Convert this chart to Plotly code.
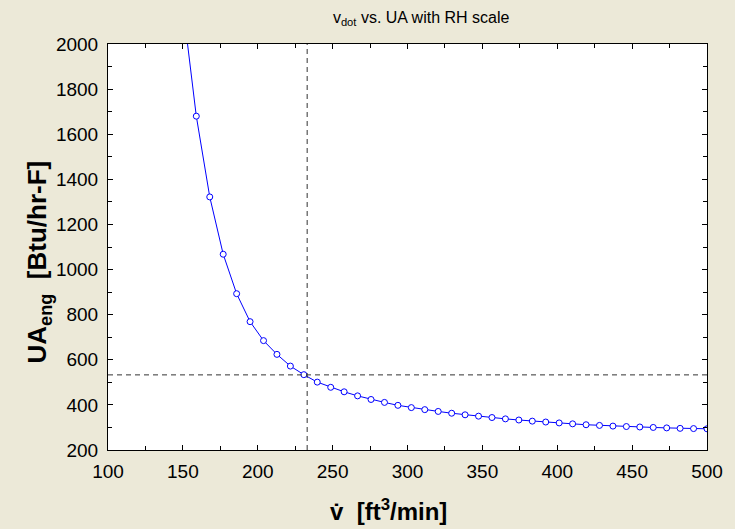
import plotly.graph_objects as go

# Data
v_dot = [150.00, 158.97, 167.95, 176.92, 185.90, 194.87, 203.85, 212.82, 221.79, 230.77,
         239.74, 248.72, 257.69, 266.67, 275.64, 284.62, 293.59, 302.56, 311.54, 320.51,
         329.49, 338.46, 347.44, 356.41, 365.38, 374.36, 383.33, 392.31, 401.28, 410.26,
         419.23, 428.21, 437.18, 446.15, 455.13, 464.10, 473.08, 482.05, 491.03, 500.00]
ua_eng = [2170, 1680, 1322, 1068, 893, 769, 685, 624, 572, 534,
          501, 478, 458, 440, 424, 411, 398, 388, 379, 371,
          363, 356, 350, 344, 338, 333, 328, 324, 320, 316,
          312, 309, 306, 304, 302, 300, 298, 296, 295, 294]

v_cross = 233
ua_cross = 533

x_ticks = [100, 150, 200, 250, 300, 350, 400, 450, 500]
y_ticks = [200, 400, 600, 800, 1000, 1200, 1400, 1600, 1800, 2000]

title_text = "v<sub>dot</sub> vs. UA with RH scale"
x_title = "<b>v\u0307\u00a0\u00a0[ft<sup>3</sup>/min]</b>"
y_title = "<b>UA<sub>eng</sub>\u00a0\u00a0[Btu/hr-F]</b>"

FONT = "Liberation Sans, Arial, sans-serif"

fig = go.Figure()
fig.add_trace(go.Scatter(
    x=v_dot, y=ua_eng, mode="lines+markers",
    line=dict(color="#0000FF", width=1),
    marker=dict(symbol="circle", size=6, color="white",
                line=dict(color="#0000FF", width=1)),
    showlegend=False, hoverinfo="x+y"))

fig.add_hline(y=ua_cross, line=dict(color="#333333", width=1, dash="5px,4px"))
fig.add_vline(x=v_cross, line=dict(color="#333333", width=1, dash="5px,4px"))

fig.update_layout(
    width=735, height=529,
    paper_bgcolor="#ECE9D8", plot_bgcolor="white",
    margin=dict(l=108, r=22, t=44, b=79),
    font=dict(family=FONT, size=19, color="black"),
    title=dict(text=title_text,
               x=0.573, xanchor="center", y=0.967, yanchor="middle",
               font=dict(family=FONT, size=16, color="black")),
)

fig.add_annotation(text=x_title, xref="paper", yref="paper",
                   x=0.468, y=-0.148, xanchor="center", yanchor="middle",
                   showarrow=False, font=dict(family=FONT, size=24, color="black"))
fig.add_annotation(text=y_title, xref="paper", yref="paper",
                   x=-0.116, y=0.463, xanchor="center", yanchor="middle",
                   textangle=-90,
                   showarrow=False, font=dict(family=FONT, size=26, color="black"))

fig.update_xaxes(
    range=[100, 500], tickvals=x_ticks, ticktext=[str(t) for t in x_ticks],
    ticks="inside", ticklen=5, tickwidth=1, tickcolor="black",
    minor=dict(dtick=25, tick0=100, ticks="inside", ticklen=4, tickcolor="black"),
    showline=True, linecolor="black", linewidth=1, mirror="ticks",
    showgrid=False, zeroline=False, ticklabelstandoff=4,
    tickfont=dict(size=19),
)
fig.update_yaxes(
    range=[200, 2000], tickvals=y_ticks, ticktext=[str(t) for t in y_ticks],
    ticks="inside", ticklen=5, tickwidth=1, tickcolor="black",
    minor=dict(dtick=100, tick0=200, ticks="inside", ticklen=4, tickcolor="black"),
    showline=True, linecolor="black", linewidth=1, mirror="ticks",
    showgrid=False, zeroline=False, ticklabelstandoff=5,
    tickfont=dict(size=19),
)

fig.write_html(
    "out.html",
    config={"displayModeBar": False},
    post_script="document.body.style.margin='0';document.body.style.overflow='hidden';"
                "document.body.style.background='#ECE9D8';",
)
